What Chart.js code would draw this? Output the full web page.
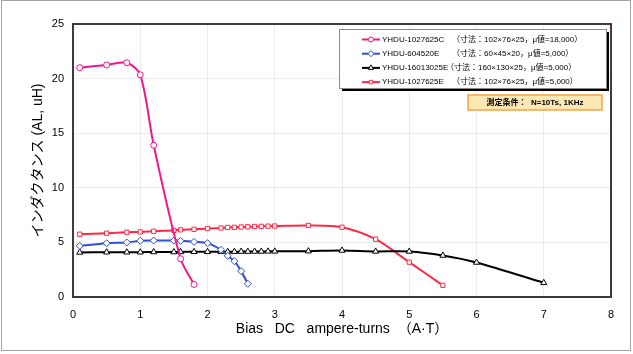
<!DOCTYPE html>
<html>
<head>
<meta charset="utf-8">
<script src="https://cdn.jsdelivr.net/npm/chart.js@4/dist/chart.umd.min.js"></script>
<style>
html,body{margin:0;padding:0;background:#fff;}
canvas{display:block;}
</style>
</head>
<body>
<canvas id="c" width="633" height="354"></canvas>
<script>
// ---- data ----
const seriesNames = ["YHDU-1027625C", "YHDU-604520E", "YHDU-16013025E", "YHDU-1027625E"];
const seriesSpecs = ["（寸法：102×76×25，μ値=18,000）", "（寸法：60×45×20，μ値=5,000）", "（寸法：160×130×25，μ値=5,000）", "（寸法：102×76×25，μ値=5,000）"];

const xC = [0.1, 0.5, 0.8, 1.0, 1.2, 1.6, 1.8];
const yC = [21.0, 21.25, 21.45, 20.35, 13.9, 3.5, 1.15];

const x604 = [0.1, 0.5, 0.8, 1.0, 1.2, 1.5, 1.6, 1.8, 2.0, 2.2, 2.3, 2.4, 2.5, 2.6];
const y604 = [4.68, 4.93, 4.99, 5.15, 5.17, 5.17, 5.14, 5.05, 4.93, 4.32, 3.77, 3.28, 2.37, 1.21];

const x160 = [0.1, 0.5, 0.8, 1.0, 1.2, 1.5, 1.6, 1.8, 2.0, 2.2, 2.3, 2.4, 2.5, 2.6, 2.7, 2.8, 2.9, 3.0, 3.5, 4.0, 4.5, 5.0, 5.5, 6.0, 7.0];
const y160 = [4.08, 4.1, 4.1, 4.1, 4.12, 4.12, 4.13, 4.14, 4.14, 4.15, 4.15, 4.15, 4.16, 4.16, 4.17, 4.17, 4.18, 4.18, 4.2, 4.26, 4.17, 4.17, 3.8, 3.16, 1.3];

const xE = [0.1, 0.5, 0.8, 1.0, 1.2, 1.5, 1.6, 1.8, 2.0, 2.2, 2.3, 2.4, 2.5, 2.6, 2.7, 2.8, 2.9, 3.0, 3.5, 4.0, 4.5, 5.0, 5.5];
const yE = [5.75, 5.84, 5.93, 5.96, 6.02, 6.1, 6.15, 6.2, 6.27, 6.32, 6.37, 6.38, 6.41, 6.43, 6.46, 6.47, 6.49, 6.5, 6.55, 6.39, 5.29, 3.19, 1.07];

const xTitle = "Bias   DC   ampere-turns  （A·T）";
const yTitle = "インダクタンス (AL, uH)";
const conditionText = "測定条件：  N=10Ts, 1KHz";

// ---- styles ----
const colors = ["#f0168c", "#2f4fd6", "#000000", "#ff2846"];
const pointStyles = ["circle", "rectRot", "triangle", "rect"];
const pointRadii = [3, 3.5, 3.5, 3];
const latin = '"Liberation Sans", Arial, "Noto Sans CJK JP", sans-serif';

function pts(xs, ys) { return xs.map((x, i) => ({x: x, y: ys[i]})); }
const dataSets = [pts(xC, yC), pts(x604, y604), pts(x160, y160), pts(xE, yE)];

const datasets = dataSets.map((d, i) => ({
  label: seriesNames[i],
  data: d,
  borderColor: colors[i],
  backgroundColor: "#ffffff",
  borderWidth: 2,
  pointStyle: pointStyles[i],
  pointRadius: pointRadii[i],
  pointBorderWidth: 1,
  pointBackgroundColor: "#ffffff",
  pointBorderColor: colors[i],
  tension: 0.3,
  fill: false
}));

const decor = {
  id: "decor",
  beforeDraw(chart) {
    const ctx = chart.ctx;
    ctx.save();
    ctx.fillStyle = "#fff";
    ctx.fillRect(0, 0, chart.width, chart.height);
    ctx.restore();
  },
  afterDraw(chart) {
    const ctx = chart.ctx;
    const a = chart.chartArea;
    ctx.save();
    // plot box
    ctx.strokeStyle = "#463838";
    ctx.lineWidth = 2;
    ctx.strokeRect(a.left, a.top, a.right - a.left, a.bottom - a.top);
    // outer frame
    ctx.strokeStyle = "#a6a6a6";
    ctx.lineWidth = 1;
    ctx.strokeRect(1.5, 0.5, 629, 350);

    // legend box
    const lx = 339, ly = 29, lw = 267, lh = 59;
    ctx.fillStyle = "#000";
    ctx.fillRect(lx + 3, ly + 3, lw, lh);
    ctx.fillStyle = "#fff";
    ctx.fillRect(lx, ly, lw, lh);
    ctx.strokeStyle = "#8a8a8a";
    ctx.lineWidth = 1;
    ctx.strokeRect(lx + 0.5, ly + 0.5, lw, lh);

    const specX = [452, 452, 446, 452];
    for (let i = 0; i < 4; i++) {
      const y = 39.5 + i * 14.2;
      ctx.strokeStyle = colors[i];
      ctx.lineWidth = 2;
      ctx.beginPath();
      ctx.moveTo(362, y);
      ctx.lineTo(380, y);
      ctx.stroke();
      ctx.fillStyle = "#fff";
      ctx.strokeStyle = colors[i];
      ctx.lineWidth = 1;
      Chart.helpers.drawPoint(ctx, {pointStyle: pointStyles[i], radius: pointRadii[i] - 0.5, borderWidth: 1, rotation: 0}, 371, y);
      ctx.fillStyle = "#000";
      ctx.font = '8px ' + latin;
      ctx.textBaseline = "middle";
      ctx.textAlign = "left";
      ctx.fillText(seriesNames[i], 382, y);
      ctx.fillText(seriesSpecs[i], specX[i], y);
    }

    // condition box
    ctx.fillStyle = "#fde8b4";
    ctx.fillRect(468, 95, 134, 15);
    ctx.strokeStyle = "#f5a443";
    ctx.lineWidth = 1.5;
    ctx.strokeRect(468, 95, 134, 15);
    ctx.fillStyle = "#000";
    ctx.font = 'bold 8px ' + latin;
    ctx.textAlign = "center";
    ctx.textBaseline = "middle";
    ctx.fillText(conditionText, 535, 102.5);
    ctx.restore();
  }
};

new Chart(document.getElementById("c"), {
  type: "line",
  data: { datasets: datasets },
  plugins: [decor],
  options: {
    responsive: false,
    animation: false,
    devicePixelRatio: 1,
    layout: { padding: { left: 0, top: 24, right: 22, bottom: 0 } },
    plugins: { legend: { display: false }, tooltip: { enabled: false } },
    scales: {
      x: {
        type: "linear",
        min: 0, max: 8,
        afterFit(s) { s.height = 57; },
        ticks: { stepSize: 1, color: "#000", padding: 11, font: { family: latin, size: 11 } },
        grid: { color: "rgba(0,0,0,0.07)", drawTicks: false },
        border: { display: false },
        title: { display: true, text: xTitle, color: "#000", font: { family: latin, size: 14 }, padding: { top: 0, bottom: 16 } }
      },
      y: {
        min: 0, max: 25,
        afterFit(s) { s.width = 73; },
        ticks: { stepSize: 5, color: "#000", padding: 9, font: { family: latin, size: 11 } },
        grid: { color: "rgba(0,0,0,0.07)", drawTicks: false },
        border: { display: false },
        title: { display: true, text: yTitle, color: "#000", font: { family: latin, size: 14 }, padding: { top: 30, bottom: 0 } }
      }
    }
  }
});
</script>
</body>
</html>
